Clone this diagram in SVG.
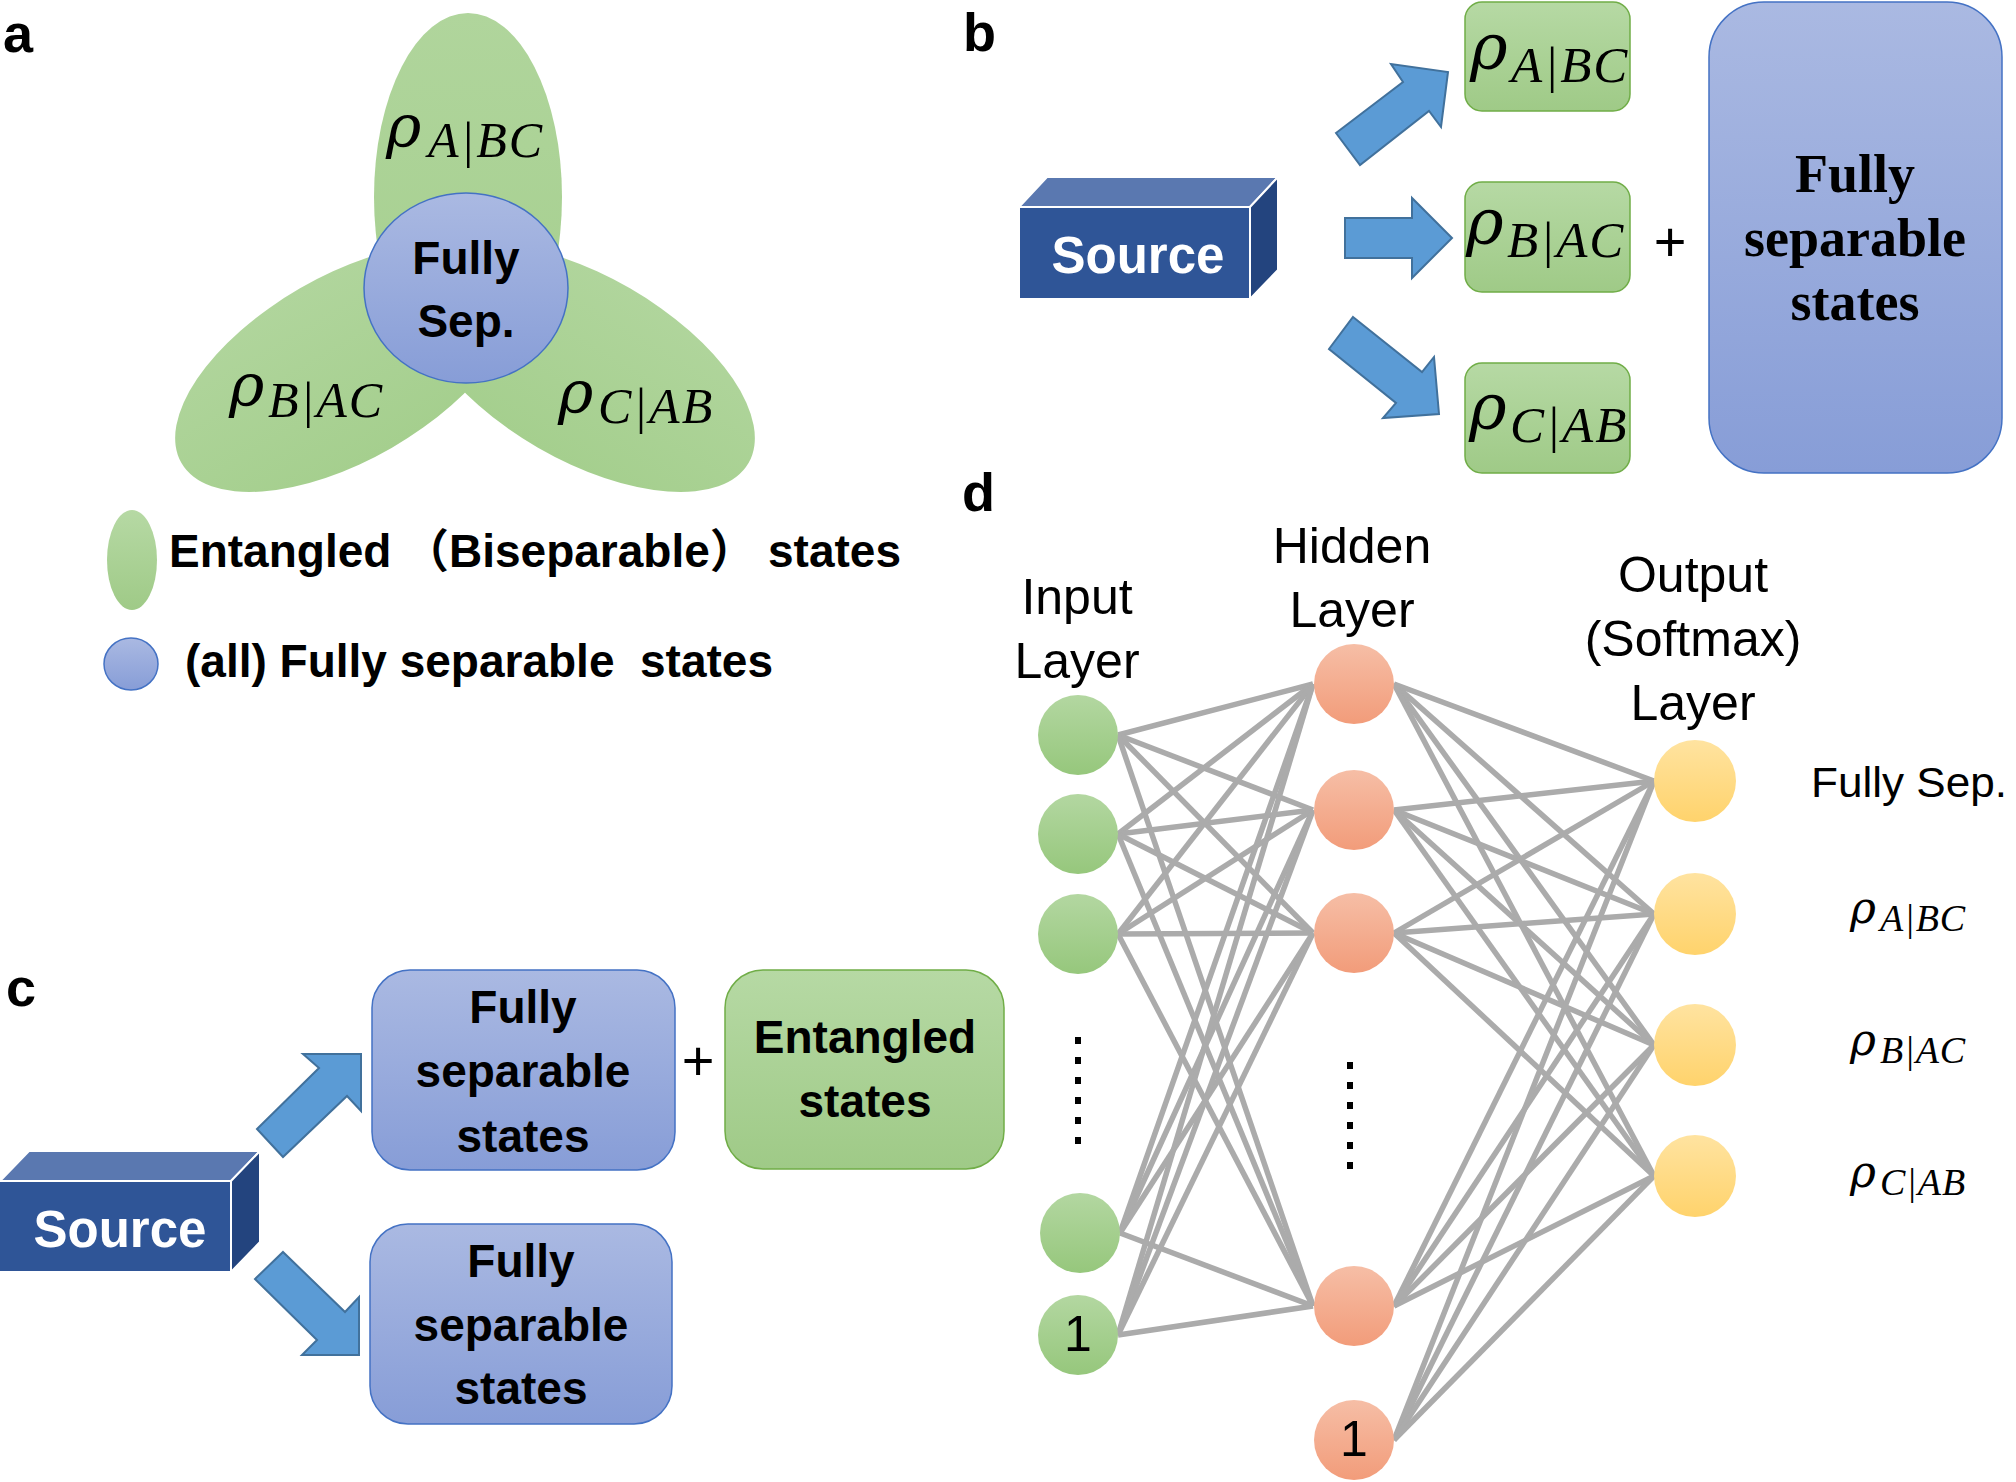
<svg xmlns="http://www.w3.org/2000/svg" width="2016" height="1482" viewBox="0 0 2016 1482">
<defs>
<style>
.lbl{font-family:"Liberation Sans",Arial,sans-serif;font-weight:bold;font-size:54px;fill:#000}
.bt{font-family:"Liberation Sans","Noto Sans CJK SC",Arial,sans-serif;font-weight:bold;font-size:46px;fill:#000}
.bc{font-family:"Liberation Sans",Arial,sans-serif;font-weight:bold;font-size:46px;fill:#000;text-anchor:middle}
.tnr{font-family:"Liberation Serif","Times New Roman",serif;font-weight:bold;font-size:54px;fill:#000;text-anchor:middle}
.src{font-family:"Liberation Sans",Arial,sans-serif;font-weight:bold;font-size:51px;fill:#fff;text-anchor:middle}
.rho{font-family:"DejaVu Serif",serif;font-style:italic;fill:#000}
.sub{font-family:"Liberation Serif","Times New Roman",serif;font-style:italic;fill:#000}
.nn{font-family:"Liberation Sans",Arial,sans-serif;font-size:50px;fill:#000;text-anchor:middle}
.plus{font-family:"Liberation Sans",Arial,sans-serif;font-size:56px;fill:#000;text-anchor:middle}
.arrow{fill:#5B9BD5;stroke:#41719C;stroke-width:2;stroke-linejoin:miter}
.edge{stroke:#ABABAB;stroke-width:5.5}
.face{stroke:#fff;stroke-width:2;stroke-linejoin:miter}
.gbox{fill:url(#gGreen);stroke:#70AD47;stroke-width:1.5}
.bbox{fill:url(#gBlue);stroke:#4472C4;stroke-width:1.5}
.dots{stroke:#000;stroke-width:6;stroke-dasharray:7 13}
</style>
<linearGradient id="gGreen" x1="0" y1="0" x2="0" y2="1"><stop offset="0" stop-color="#B6D9A4"/><stop offset="1" stop-color="#9FCA87"/></linearGradient>
<linearGradient id="gPetal" x1="0" y1="0" x2="0" y2="1"><stop offset="0" stop-color="#B0D59C"/><stop offset="1" stop-color="#A5CF8E"/></linearGradient>
<linearGradient id="gBlue" x1="0" y1="0" x2="0" y2="1"><stop offset="0" stop-color="#AAB9E2"/><stop offset="1" stop-color="#879DD7"/></linearGradient>
<linearGradient id="gIn" x1="0" y1="0" x2="0" y2="1"><stop offset="0" stop-color="#B3D7A1"/><stop offset="1" stop-color="#96C77C"/></linearGradient>
<linearGradient id="gHid" x1="0" y1="0" x2="0" y2="1"><stop offset="0" stop-color="#F6BEA6"/><stop offset="1" stop-color="#F29C7A"/></linearGradient>
<linearGradient id="gOut" x1="0" y1="0" x2="0" y2="1"><stop offset="0" stop-color="#FFE3A0"/><stop offset="1" stop-color="#FFD36C"/></linearGradient>
</defs>
<rect width="2016" height="1482" fill="#fff"/>

<!-- Panel labels -->
<g id="panel-labels">
<text class="lbl" x="3" y="52">a</text>
<text class="lbl" x="963" y="51">b</text>
<text class="lbl" x="6" y="1006">c</text>
<text class="lbl" x="962" y="511">d</text>
</g>

<!-- Panel a -->
<g id="petal-A">
<ellipse cx="468" cy="197" rx="94" ry="184" fill="url(#gPetal)"/>
</g>
<g id="petal-B">
<ellipse cx="0" cy="0" rx="190" ry="92" fill="url(#gPetal)" transform="translate(346,368) rotate(-30)"/>
</g>
<g id="petal-C">
<ellipse cx="0" cy="0" rx="190" ry="92" fill="url(#gPetal)" transform="translate(584,368) rotate(30)"/>
</g>
<g id="a-labels">
<text class="rho" x="386" y="147" font-size="60">ρ</text>
<text class="sub" x="428" y="157" font-size="50" letter-spacing="2">A|BC</text>
<text class="rho" x="229" y="406" font-size="60">ρ</text>
<text class="sub" x="268" y="417" font-size="50" letter-spacing="2">B|AC</text>
<text class="rho" x="558" y="413" font-size="60">ρ</text>
<text class="sub" x="598" y="423" font-size="50" letter-spacing="2">C|AB</text>
</g>
<g id="fully-sep-circle">
<ellipse cx="466" cy="288" rx="102" ry="95" fill="url(#gBlue)" stroke="#4472C4" stroke-width="1.5"/>
<text class="bc" x="466" y="274" font-size="44">Fully</text>
<text class="bc" x="466" y="337" font-size="44">Sep.</text>
</g>
<g id="legend">
<ellipse cx="132" cy="560" rx="25" ry="50" fill="url(#gGreen)"/>
<text class="bt" y="567"><tspan x="169">Entangled</tspan><tspan x="403">（Biseparable）</tspan><tspan x="768">states</tspan></text>
<ellipse cx="131" cy="664" rx="27" ry="26" fill="url(#gBlue)" stroke="#4472C4" stroke-width="1.5"/>
<text class="bt" x="185" y="677" font-size="46.5" xml:space="preserve">(all) Fully separable  states</text>
</g>

<!-- Panel b -->
<g id="source-b">
<polygon class="face" points="1019,207 1047,177 1278,177 1250,207" fill="#5A78B0"/>
<polygon class="face" points="1250,207 1278,177 1278,270 1250,299" fill="#23447E"/>
<rect class="face" x="1019" y="207" width="231" height="92" fill="#2F5597"/>
<text class="src" x="1138" y="273">Source</text>
</g>
<g id="arrows-b">
<polygon class="arrow" points="1336,133 1403,82 1391,64 1448,72 1441,127 1429,111 1360,165"/>
<polygon class="arrow" points="1345,218 1412,218 1412,198 1452,238 1412,278 1412,258 1345,258"/>
<polygon class="arrow" points="1353,317 1422,372 1434,357 1439,414 1383,418 1396,403 1329,349"/>
</g>
<g id="box-b-A">
<rect class="gbox" x="1465" y="2" width="165" height="109" rx="17"/>
<text class="rho" x="1470" y="69" font-size="64">ρ</text>
<text class="sub" x="1511" y="82" font-size="51" letter-spacing="2">A|BC</text>
</g>
<g id="box-b-B">
<rect class="gbox" x="1465" y="182" width="165" height="110" rx="17"/>
<text class="rho" x="1466" y="244" font-size="64">ρ</text>
<text class="sub" x="1507" y="257" font-size="51" letter-spacing="2">B|AC</text>
</g>
<g id="box-b-C">
<rect class="gbox" x="1465" y="363" width="165" height="110" rx="17"/>
<text class="rho" x="1469" y="429" font-size="64">ρ</text>
<text class="sub" x="1510" y="442" font-size="51" letter-spacing="2">C|AB</text>
</g>
<text class="plus" x="1670" y="261">+</text>
<g id="box-b-full">
<rect class="bbox" x="1709" y="2" width="293" height="471" rx="55"/>
<text class="tnr" x="1855" y="192">Fully</text>
<text class="tnr" x="1855" y="256">separable</text>
<text class="tnr" x="1855" y="320">states</text>
</g>

<!-- Panel c -->
<g id="source-c">
<polygon class="face" points="0,1181 29,1151 260,1151 231,1181" fill="#5A78B0"/>
<polygon class="face" points="231,1181 260,1151 260,1242 231,1272" fill="#23447E"/>
<rect class="face" x="-2" y="1181" width="233" height="91" fill="#2F5597"/>
<text class="src" x="120" y="1247">Source</text>
</g>
<g id="arrows-c">
<polygon class="arrow" points="257,1129 319,1068 303,1054 361,1054 361,1111 347,1096 283,1157"/>
<polygon class="arrow" points="283,1252 345,1312 359,1297 359,1355 302,1355 317,1340 255,1279"/>
</g>
<g id="box-c-top">
<rect class="bbox" x="372" y="970" width="303" height="200" rx="38"/>
<text class="bc" x="523" y="1023">Fully</text>
<text class="bc" x="523" y="1087">separable</text>
<text class="bc" x="523" y="1152">states</text>
</g>
<text class="plus" x="698" y="1080">+</text>
<g id="box-c-ent">
<rect class="gbox" x="725" y="970" width="279" height="199" rx="38"/>
<text class="bc" x="865" y="1053">Entangled</text>
<text class="bc" x="865" y="1117">states</text>
</g>
<g id="box-c-bottom">
<rect class="bbox" x="370" y="1224" width="302" height="200" rx="38"/>
<text class="bc" x="521" y="1277">Fully</text>
<text class="bc" x="521" y="1341">separable</text>
<text class="bc" x="521" y="1404">states</text>
</g>

<!-- Panel d -->
<g id="connectors">
<line class="edge" x1="1118" y1="735" x2="1313" y2="684"/>
<line class="edge" x1="1118" y1="735" x2="1313" y2="810"/>
<line class="edge" x1="1118" y1="735" x2="1313" y2="933"/>
<line class="edge" x1="1118" y1="735" x2="1313" y2="1306"/>
<line class="edge" x1="1118" y1="834" x2="1313" y2="684"/>
<line class="edge" x1="1118" y1="834" x2="1313" y2="810"/>
<line class="edge" x1="1118" y1="834" x2="1313" y2="933"/>
<line class="edge" x1="1118" y1="834" x2="1313" y2="1306"/>
<line class="edge" x1="1118" y1="934" x2="1313" y2="684"/>
<line class="edge" x1="1118" y1="934" x2="1313" y2="810"/>
<line class="edge" x1="1118" y1="934" x2="1313" y2="933"/>
<line class="edge" x1="1118" y1="934" x2="1313" y2="1306"/>
<line class="edge" x1="1120" y1="1233" x2="1313" y2="684"/>
<line class="edge" x1="1120" y1="1233" x2="1313" y2="810"/>
<line class="edge" x1="1120" y1="1233" x2="1313" y2="933"/>
<line class="edge" x1="1120" y1="1233" x2="1313" y2="1306"/>
<line class="edge" x1="1118" y1="1335" x2="1313" y2="684"/>
<line class="edge" x1="1118" y1="1335" x2="1313" y2="810"/>
<line class="edge" x1="1118" y1="1335" x2="1313" y2="933"/>
<line class="edge" x1="1118" y1="1335" x2="1313" y2="1306"/>
<line class="edge" x1="1394" y1="684" x2="1654" y2="781"/>
<line class="edge" x1="1394" y1="684" x2="1654" y2="914"/>
<line class="edge" x1="1394" y1="684" x2="1654" y2="1045"/>
<line class="edge" x1="1394" y1="684" x2="1654" y2="1176"/>
<line class="edge" x1="1394" y1="810" x2="1654" y2="781"/>
<line class="edge" x1="1394" y1="810" x2="1654" y2="914"/>
<line class="edge" x1="1394" y1="810" x2="1654" y2="1045"/>
<line class="edge" x1="1394" y1="810" x2="1654" y2="1176"/>
<line class="edge" x1="1394" y1="933" x2="1654" y2="781"/>
<line class="edge" x1="1394" y1="933" x2="1654" y2="914"/>
<line class="edge" x1="1394" y1="933" x2="1654" y2="1045"/>
<line class="edge" x1="1394" y1="933" x2="1654" y2="1176"/>
<line class="edge" x1="1394" y1="1306" x2="1654" y2="781"/>
<line class="edge" x1="1394" y1="1306" x2="1654" y2="914"/>
<line class="edge" x1="1394" y1="1306" x2="1654" y2="1045"/>
<line class="edge" x1="1394" y1="1306" x2="1654" y2="1176"/>
<line class="edge" x1="1394" y1="1440" x2="1654" y2="781"/>
<line class="edge" x1="1394" y1="1440" x2="1654" y2="914"/>
<line class="edge" x1="1394" y1="1440" x2="1654" y2="1045"/>
<line class="edge" x1="1394" y1="1440" x2="1654" y2="1176"/>
</g>
<g id="input-layer">
<text class="nn" x="1077" y="614">Input</text>
<text class="nn" x="1077" y="678">Layer</text>
<circle cx="1078" cy="735" r="40" fill="url(#gIn)"/>
<circle cx="1078" cy="834" r="40" fill="url(#gIn)"/>
<circle cx="1078" cy="934" r="40" fill="url(#gIn)"/>
<line class="dots" x1="1078" y1="1037" x2="1078" y2="1145"/>
<circle cx="1080" cy="1233" r="40" fill="url(#gIn)"/>
<circle cx="1078" cy="1335" r="40" fill="url(#gIn)"/>
<text class="nn" x="1078" y="1351" font-size="42">1</text>
</g>
<g id="hidden-layer">
<text class="nn" x="1352" y="563">Hidden</text>
<text class="nn" x="1352" y="627">Layer</text>
<circle cx="1354" cy="684" r="40" fill="url(#gHid)"/>
<circle cx="1354" cy="810" r="40" fill="url(#gHid)"/>
<circle cx="1354" cy="933" r="40" fill="url(#gHid)"/>
<line class="dots" x1="1350" y1="1062" x2="1350" y2="1170"/>
<circle cx="1354" cy="1306" r="40" fill="url(#gHid)"/>
<circle cx="1354" cy="1440" r="40" fill="url(#gHid)"/>
<text class="nn" x="1354" y="1456" font-size="42">1</text>
</g>
<g id="output-layer">
<text class="nn" x="1693" y="592">Output</text>
<text class="nn" x="1693" y="656">(Softmax)</text>
<text class="nn" x="1693" y="720">Layer</text>
<circle cx="1695" cy="781" r="41" fill="url(#gOut)"/>
<circle cx="1695" cy="914" r="41" fill="url(#gOut)"/>
<circle cx="1695" cy="1045" r="41" fill="url(#gOut)"/>
<circle cx="1695" cy="1176" r="41" fill="url(#gOut)"/>
</g>
<g id="output-labels">
<text x="1811" y="797" font-family="Liberation Sans, Arial, sans-serif" font-size="43" textLength="196" lengthAdjust="spacingAndGlyphs">Fully Sep.</text>
<text class="rho" x="1850" y="923" font-size="44">ρ</text>
<text class="sub" x="1880" y="931" font-size="38" letter-spacing="1">A|BC</text>
<text class="rho" x="1850" y="1055" font-size="44">ρ</text>
<text class="sub" x="1880" y="1063" font-size="38" letter-spacing="1">B|AC</text>
<text class="rho" x="1850" y="1187" font-size="44">ρ</text>
<text class="sub" x="1880" y="1195" font-size="38" letter-spacing="1">C|AB</text>
</g>
</svg>
